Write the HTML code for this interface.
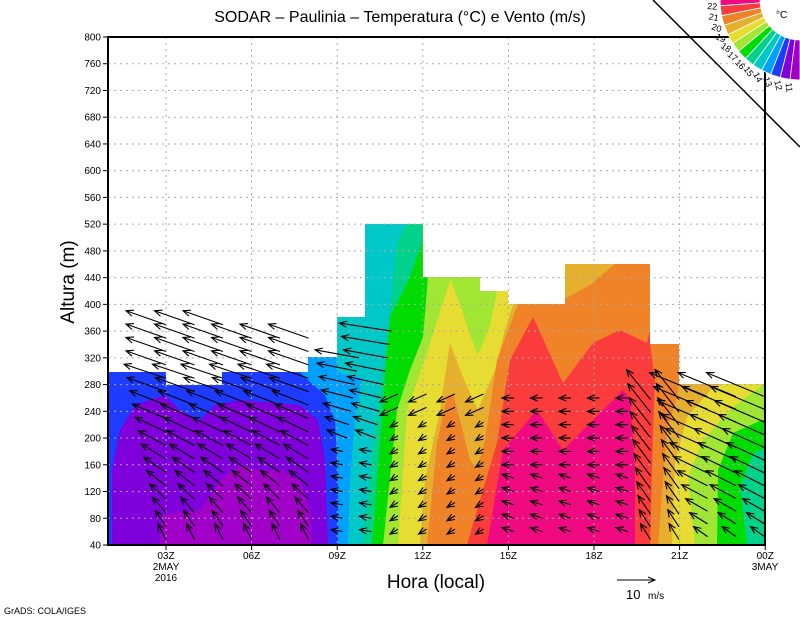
<!DOCTYPE html>
<html><head><meta charset="utf-8"><style>
html,body{margin:0;padding:0;background:#fff;}
svg{display:block;font-family:"Liberation Sans",sans-serif;}
</style></head><body>
<svg id="s" width="800" height="618" viewBox="0 0 800 618" xmlns="http://www.w3.org/2000/svg">
<defs>
<clipPath id="dc"><polygon points="108,372 166,372 166,385 222,385 222,372 308,372 308,357 337,357 337,317 365,317 365,224 423,224 423,277 480,277 480,291 508,291 508,304 565,304 565,264 650,264 650,344 679,344 679,384 765,384 765,545 108,545"/></clipPath>
</defs>
<g id="fill" clip-path="url(#dc)"></g>
<g id="grid" stroke="#aaa" stroke-width="1" stroke-dasharray="2,4"></g>
<g id="arr" stroke="#000" stroke-width="1.1" fill="none"></g>
<rect x="108" y="37" width="657" height="508" fill="none" stroke="#000" stroke-width="2"/>
<g id="ax" font-size="10" fill="#000"></g>
<text x="400" y="22" font-size="16" text-anchor="middle">SODAR – Paulinia – Temperatura (°C) e Vento (m/s)</text>
<text transform="translate(74,282) rotate(-90)" font-size="19" text-anchor="middle">Altura (m)</text>
<text x="436" y="588" font-size="19" text-anchor="middle">Hora (local)</text>
<line x1="617" y1="580" x2="655" y2="580" stroke="#000"/>
<polyline points="648,577 655,580 648,583" fill="none" stroke="#000"/>
<text x="626" y="599" font-size="13">10</text><text x="648" y="599" font-size="10">m/s</text>
<text x="4" y="614" font-size="9">GrADS: COLA/IGES</text>
<line x1="653" y1="0" x2="800" y2="147" stroke="#000" stroke-width="1.5"/>
<g id="cb"></g>
<text x="776" y="18" font-size="10">°C</text>
</svg>
<script>
var NS="http://www.w3.org/2000/svg";
function el(p,t,a,txt){var e=document.createElementNS(NS,t);for(var k in a)e.setAttribute(k,a[k]);if(txt!=null)e.textContent=txt;document.getElementById(p).appendChild(e);return e;}
function Y(v){return 545-(v-40)*508/760;}
var C={pk:"#f00a82",rd:"#fa3c3c",or:"#f08228",lo:"#e6af2d",ye:"#e6dc32",yg:"#a0e632",gr:"#00dc00",tg:"#00d28c",cy:"#00c8c8",sk:"#00a0ff",bl:"#1e3cff",pu:"#8000dc",mp:"#a000c8"};
function poly(col,pts){el("fill","polygon",{points:pts.map(function(p){return p.join(",")}).join(" "),fill:col});}
function right(col,pts){var l=pts[pts.length-1],f=pts[0];poly(col,pts.concat([[l[0],0],[900,0],[900,600],[f[0],600]]));}
poly(C.bl,[[100,200],[800,200],[800,600],[100,600]]);
poly(C.pu,[[112,545],[112,470],[120,430],[135,405],[165,395],[180,410],[200,420],[215,405],[240,400],[300,405],[318,420],[325,460],[328,545]]);
poly(C.mp,[[160,545],[162,515],[200,510],[225,475],[240,465],[255,470],[280,470],[300,480],[310,510],[312,545]]);
right(C.sk,[[338,545],[338,480],[335,420],[325,395],[310,382],[300,372],[300,300]]);
right(C.cy,[[348,545],[350,480],[355,420],[362,378],[337,372],[337,200]]);
right(C.tg,[[363,545],[377,410],[390,310],[397,243],[407,223],[410,200]]);
right(C.gr,[[372,545],[385,377],[390,317],[410,277],[422,243],[423,200]]);
right(C.yg,[[383,545],[397,410],[410,370],[423,337],[428,277],[430,200]]);
right(C.ye,[[398,545],[407,410],[427,353],[450,280],[452,200]]);
poly(C.yg,[[450,278],[455,260],[498,260],[497,292],[490,325],[478,355],[470,335],[462,310]]);
right(C.lo,[[420,545],[425,480],[440,410],[450,343],[462,375],[478,410],[495,370],[505,330],[513,305],[520,290],[530,250]]);
right(C.or,[[427,545],[437,443],[447,397],[453,393],[460,420],[470,460],[477,470],[485,440],[497,360],[512,320],[518,304],[563,304],[563,300],[590,285],[615,264],[620,250]]);
right(C.rd,[[467,545],[480,500],[497,443],[510,360],[533,317],[563,383],[593,343],[620,330],[647,343],[650,330]]);
poly(C.pk,[[487,545],[503,450],[537,410],[563,450],[623,390],[630,400],[635,470],[635,545]]);
right(C.or,[[650,545],[653,430],[655,380],[650,344],[650,300]]);
right(C.lo,[[658,545],[667,430],[677,397],[679,384],[679,300]]);
right(C.ye,[[672,545],[675,463],[687,417],[713,387],[723,384],[723,300]]);
right(C.yg,[[695,545],[688,477],[703,440],[733,407],[760,387],[765,384],[765,300]]);
right(C.gr,[[717,545],[718,470],[733,433],[762,420],[765,420],[766,300]]);
right(C.tg,[[747,545],[740,487],[753,453],[765,448],[766,300]]);
for(var v=40;v<=800;v+=40){var y=Y(v);if(v>40&&v<800)el("grid","line",{x1:108,y1:y,x2:765,y2:y});
 el("ax","line",{x1:103,y1:y,x2:108,y2:y,stroke:"#000"});el("ax","text",{x:101,y:y+3.5,"text-anchor":"end"},v);}
var xl=["03Z","06Z","09Z","12Z","15Z","18Z","21Z","00Z"];
for(var i=0;i<8;i++){var x=166+i*85.6;if(i<7)el("grid","line",{x1:x,y1:37,x2:x,y2:545});
 el("ax","line",{x1:x,y1:545,x2:x,y2:550,stroke:"#000"});el("ax","text",{x:x,y:559,"text-anchor":"middle"},xl[i]);}
el("ax","text",{x:166,y:570,"text-anchor":"middle"},"2MAY");el("ax","text",{x:166,y:581,"text-anchor":"middle"},"2016");
el("ax","text",{x:765,y:570,"text-anchor":"middle"},"3MAY");
function arrow(x1,y1,dx,dy){var x2=x1+dx,y2=y1+dy;var L=Math.hypot(dx,dy);if(L<1)return;
 var ux=dx/L,uy=dy/L,h=8,a=0.4,c=Math.cos(a),s=Math.sin(a);
 var p1=[x2-h*(ux*c-uy*s),y2-h*(uy*c+ux*s)],p2=[x2-h*(ux*c+uy*s),y2-h*(uy*c-ux*s)];
 el("arr","path",{d:"M"+x1+","+y1+"L"+x2+","+y2+"M"+p1+"L"+x2+","+y2+"L"+p2});}
for(var k=-6;k<=15;k++){var gx=337+28.5*k;var mx;
 if(gx<230)mx=380;else if(gx<330)mx=360;else if(gx<350)mx=320;else if(gx<380)mx=370;else if(gx<640)mx=260;else mx=280;
 for(var h=60;h<=mx;h+=20){var y=Y(h),dx,dy,t,tx=gx,ty=y;
  if(gx<330){t=Math.min(1,(h-60)/240);dx=-8-34*t;dy=-16+2*t;if(h>300){dx=-40;dy=-14;}tx=gx;ty=y-dy/2;}
  else if(gx<380){if(h<200){dx=-12;dy=-2;}else{dx=-20-(h-200)/5;dy=-8;}tx=gx-dx/2;}
  else if(gx<480){dx=-8;dy=5;if(h>220){dx=-18;dy=8;}tx=gx+4;ty=y-dy/2;}
  else if(gx<640){dx=-12;dy=(h<160?-4:0);tx=gx+6;}
  else if(gx<690){t=(h-60)/220;dx=-10-t*14;dy=-16-t*14;tx=gx;ty=y-dy/2;}
  else{t=(h-60)/220;dx=-14-t*44;dy=-10-t*14;tx=gx;ty=y-dy/2;}
  if(tx>766)tx=765;
  arrow(tx,ty,dx,dy);}}
var cols=[C.pk,C.rd,C.or,C.lo,C.ye,C.yg,C.gr,C.tg,C.cy,C.sk,C.bl,C.pu,"#a000c8"];
var n=cols.length,a0=-3*Math.PI/180,a1=Math.PI/2,r0=40,r1=80;
function P(r,a){return [800-r*Math.cos(a),r*Math.sin(a)];}
for(var i=0;i<n;i++){var aa=a0+(a1-a0)*i/n,ab=a0+(a1-a0)*(i+1)/n;
 var p=[P(r1,aa),P(r1,ab),P(r0,ab),P(r0,aa)];
 el("cb","polygon",{points:p.map(function(q){return q.join(",")}).join(" "),fill:cols[i],stroke:"#fff","stroke-width":"0.8"});
 if(i<n-1){var lp=P(88,ab);el("cb","text",{x:lp[0],y:lp[1]+3,"font-size":"9","text-anchor":"middle",transform:"rotate("+(ab*180/Math.PI)+","+lp[0]+","+lp[1]+")"},22-i);}}
</script>
</body></html>
